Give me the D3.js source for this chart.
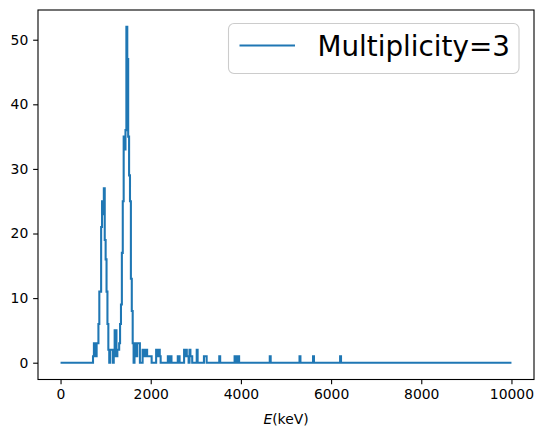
<!DOCTYPE html>
<meta charset="utf-8">
<style>
body { margin: 0; background: #fff; }
svg { display: block; font-family: "DejaVu Sans", sans-serif; }
.tick text { font-size: 13.9px; fill: #000; }
</style>
<body>
<script src="https://d3js.org/d3.v7.min.js"></script>
<script>

// histogram, 20 keV bins from 0 to 10000 keV; only non-empty bins listed
var binWidth = 20;
var binStarts = [720, 740, 760, 780, 800, 820, 840, 860, 880, 900, 920, 940, 960, 980,
  1000, 1020, 1040, 1060, 1100, 1120, 1140, 1180, 1200, 1220, 1240, 1260, 1280, 1300,
  1320, 1340, 1360, 1380, 1400, 1420, 1440, 1460, 1480, 1500, 1520, 1540, 1560, 1580,
  1600, 1640, 1660, 1680, 1700, 1720, 1740, 1820, 1840, 1860, 1880, 1900, 1920, 1940,
  1960, 1980, 2000, 2120, 2140, 2160, 2180, 2200, 2380, 2400, 2440, 2600, 2620, 2740,
  2760, 2780, 2800, 2820, 2860, 2880, 2900, 3020, 3180, 3200, 3220, 3520, 3860, 3880,
  3940, 4640, 5300, 5600, 6200];
var binCounts = [1, 3, 3, 1, 3, 3, 6, 11, 11, 21, 25, 23, 27, 19,
  16, 11, 6, 2, 2, 2, 2, 1, 5, 5, 1, 2, 2, 3,
  6, 9, 17, 25, 35, 33, 36, 52, 47, 35, 29, 25, 13, 8,
  3, 3, 3, 1, 3, 3, 3, 2, 2, 1, 2, 2, 1, 1,
  1, 1, 1, 2, 2, 1, 2, 1, 1, 1, 1, 1, 1, 2,
  1, 2, 1, 1, 2, 1, 1, 2, 1, 1, 1, 1, 1, 1,
  1, 1, 1, 1, 1];
var eMin = 0, eMax = 10000;
var xTicks = [0, 2000, 4000, 6000, 8000, 10000];
var yTicks = [0, 10, 20, 30, 40, 50];
var seriesLabel = "Multiplicity=3";

var W = 543, H = 434;
var margin = {top: 10, right: 9, bottom: 54.5, left: 38};
var width = W - margin.left - margin.right,
    height = H - margin.top - margin.bottom;

// full list of bins (empty ones are zero)
var countOf = new Map(binStarts.map(function(e, i) { return [e, binCounts[i]]; }));
var points = [];
for (var e = eMin; e < eMax; e += binWidth) {
  points.push({e: e, c: countOf.get(e) || 0});
}
points.push({e: eMax, c: 0});

var maxC = d3.max(binCounts);
var x = d3.scaleLinear().domain([eMin - 0.05 * (eMax - eMin), eMax + 0.05 * (eMax - eMin)]).range([0, width]);
var y = d3.scaleLinear().domain([-0.05 * maxC, maxC * 1.05]).range([height, 0]);

var svg = d3.select("body").append("svg")
    .attr("width", W)
    .attr("height", H);
svg.append("rect").attr("width", W).attr("height", H).attr("fill", "#fff");

var g = svg.append("g")
    .attr("transform", "translate(" + margin.left + "," + margin.top + ")");

// the step line
var line = d3.line()
    .x(function(d) { return x(d.e); })
    .y(function(d) { return y(d.c); })
    .curve(d3.curveStepAfter);

g.append("path")
    .datum(points)
    .attr("fill", "none")
    .attr("stroke", "#1f77b4")
    .attr("stroke-width", 2.08)
    .attr("stroke-linejoin", "miter")
    .attr("d", line);

// axes
var xAxis = g.append("g")
    .attr("transform", "translate(0," + height + ")")
    .call(d3.axisBottom(x).tickValues(xTicks).tickSize(4.86).tickPadding(4.86).tickFormat(d3.format("d")));
var yAxis = g.append("g")
    .call(d3.axisLeft(y).tickValues(yTicks).tickSize(4.86).tickPadding(4.86).tickFormat(d3.format("d")));
[xAxis, yAxis].forEach(function(a) {
  a.select(".domain").remove();
  a.selectAll(".tick line").attr("stroke", "#000").attr("stroke-width", 1.1);
  a.attr("font-family", null).attr("font-size", null);
});

// frame
g.append("rect")
    .attr("width", width)
    .attr("height", height)
    .attr("fill", "none")
    .attr("stroke", "#000")
    .attr("stroke-width", 1.1);

// x label
var xl = svg.append("text")
    .attr("x", margin.left + width / 2)
    .attr("y", 424)
    .attr("text-anchor", "middle")
    .attr("font-size", "13.9px");
xl.append("tspan").attr("font-style", "italic").text("E");
xl.append("tspan").text("(keV)");

// legend
var fs = 27.8;
var lg = svg.append("g");
lg.append("rect")
    .attr("x", 228.5).attr("y", 23.5)
    .attr("width", 290.5).attr("height", 50)
    .attr("rx", 5.5)
    .attr("fill", "#fff").attr("fill-opacity", 0.8)
    .attr("stroke", "#cccccc").attr("stroke-width", 1.1);
lg.append("line")
    .attr("x1", 239.5).attr("x2", 295)
    .attr("y1", 45.5).attr("y2", 45.5)
    .attr("stroke", "#1f77b4").attr("stroke-width", 2.08);
lg.append("text")
    .attr("x", 317.5).attr("y", 56)
    .attr("font-size", fs + "px")
    .text(seriesLabel);

</script>
</body>
